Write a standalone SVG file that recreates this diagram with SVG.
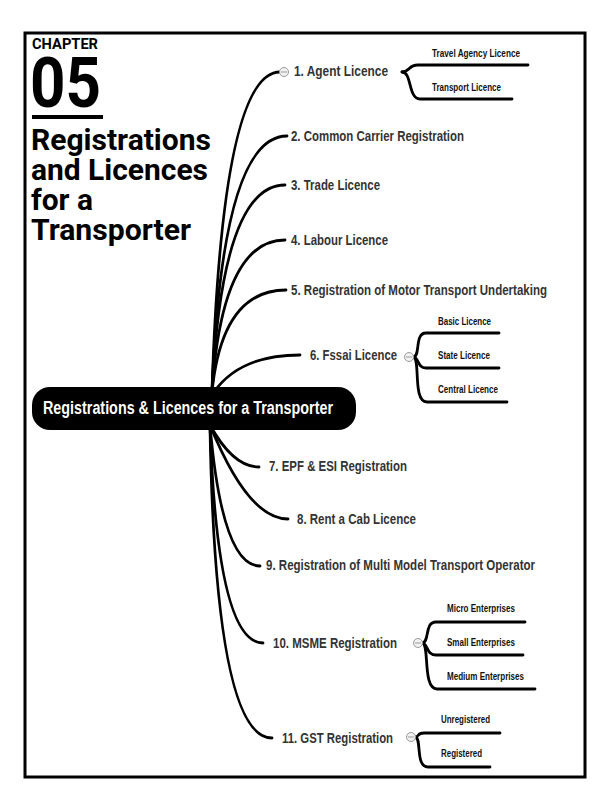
<svg xmlns="http://www.w3.org/2000/svg" width="615" height="797" viewBox="0 0 615 797">
<style>
.title{font-family:Roboto,"Liberation Sans",sans-serif;font-weight:bold;fill:#000}
.br{font-family:"Liberation Sans",Arial,sans-serif;font-weight:bold;font-size:15px;fill:#333}
.sub{font-family:"Liberation Sans",Arial,sans-serif;font-weight:bold;font-size:10px;fill:#111}
.edge{fill:none;stroke:#000;stroke-width:2.8;stroke-linecap:round}
.tog{fill:#f2f2f2;stroke:#999;stroke-width:1}
.togm{stroke:#999;stroke-width:1}
</style>
<rect x="0" y="0" width="615" height="797" fill="#fff"/>
<rect x="25" y="33" width="560" height="744" fill="none" stroke="#000" stroke-width="3"/>
<g id="title">
<text class="title" x="32" y="49" font-size="14" textLength="66" lengthAdjust="spacingAndGlyphs">CHAPTER</text>
<text class="title" x="30" y="107" font-size="70" textLength="71" lengthAdjust="spacingAndGlyphs">05</text>
<rect x="32" y="115" width="71" height="4" fill="#000"/>
<text class="title" x="31" y="150" font-size="29" textLength="180" lengthAdjust="spacingAndGlyphs">Registrations</text>
<text class="title" x="31" y="180" font-size="29" textLength="177" lengthAdjust="spacingAndGlyphs">and Licences</text>
<text class="title" x="31" y="210" font-size="29" textLength="62" lengthAdjust="spacingAndGlyphs">for a</text>
<text class="title" x="31" y="240" font-size="29" textLength="160" lengthAdjust="spacingAndGlyphs">Transporter</text>
</g>
<g id="connectors">
<path class="edge" d="M212,392 Q222,72 280,72"/>
<path class="edge" d="M212,392 Q222,136 287,136"/>
<path class="edge" d="M212,392 Q222,185 285,185"/>
<path class="edge" d="M212,392 Q222,240 285,240"/>
<path class="edge" d="M212,392 Q222,290 286,290"/>
<path class="edge" d="M214,392 Q240,355 300,355"/>
<path class="edge" d="M210,425 Q233,467 259,467"/>
<path class="edge" d="M210,425 Q248,519 288,519"/>
<path class="edge" d="M210,425 Q222,566 260,566"/>
<path class="edge" d="M210,425 Q217,643 263,643"/>
<path class="edge" d="M210,425 Q215,738 272,738"/>
<path class="edge" d="M402,72 C410,72 408,65 418,65 L528,65"/>
<path class="edge" d="M402,72 C412,72 408,99 420,99 L512,99"/>
<path class="edge" d="M413,357 C421,357 414,333 426,333 L499,333"/>
<path class="edge" d="M413,357 C419,357 417,368 426,368 L499,368"/>
<path class="edge" d="M413,357 C421,357 412,402 427,402 L507,402"/>
<path class="edge" d="M422,643 C430,643 424,622 436,622 L525,622"/>
<path class="edge" d="M422,643 C428,643 426,655 436,655 L523,655"/>
<path class="edge" d="M422,643 C430,643 422,689 437,689 L535,689"/>
<path class="edge" d="M415,737 C420,737 416,733 424,733 L500,733"/>
<path class="edge" d="M415,737 C422,737 415,767 428,767 L490,767"/>
</g>
<g id="root">
<rect x="32" y="387" width="324" height="43" rx="18" fill="#000"/>
<text x="43" y="414" font-family="'Liberation Sans',Arial,sans-serif" font-weight="bold" font-size="18" fill="#fff" textLength="290" lengthAdjust="spacingAndGlyphs">Registrations &amp; Licences for a Transporter</text>
</g>
<g id="n1">
<circle class="tog" cx="284" cy="72" r="4.5"/><line class="togm" x1="281" y1="72" x2="287" y2="72"/>
<text class="br" x="294" y="76" textLength="94" lengthAdjust="spacingAndGlyphs">1. Agent Licence</text>
</g>
<g id="n1a"><text class="sub" x="432" y="57" textLength="88" lengthAdjust="spacingAndGlyphs">Travel Agency Licence</text></g>
<g id="n1b"><text class="sub" x="432" y="91" textLength="69" lengthAdjust="spacingAndGlyphs">Transport Licence</text></g>
<g id="n2"><text class="br" x="291" y="141" textLength="173" lengthAdjust="spacingAndGlyphs">2. Common Carrier Registration</text></g>
<g id="n3"><text class="br" x="291" y="190" textLength="89" lengthAdjust="spacingAndGlyphs">3. Trade Licence</text></g>
<g id="n4"><text class="br" x="291" y="245" textLength="97" lengthAdjust="spacingAndGlyphs">4. Labour Licence</text></g>
<g id="n5"><text class="br" x="291" y="295" textLength="256" lengthAdjust="spacingAndGlyphs">5. Registration of Motor Transport Undertaking</text></g>
<g id="n6">
<text class="br" x="310" y="360" textLength="87" lengthAdjust="spacingAndGlyphs">6. Fssai Licence</text>
<circle class="tog" cx="409" cy="357" r="4.5"/><line class="togm" x1="406" y1="357" x2="412" y2="357"/>
</g>
<g id="n6a"><text class="sub" x="438" y="325" textLength="53" lengthAdjust="spacingAndGlyphs">Basic Licence</text></g>
<g id="n6b"><text class="sub" x="438" y="359" textLength="52" lengthAdjust="spacingAndGlyphs">State Licence</text></g>
<g id="n6c"><text class="sub" x="438" y="393" textLength="60" lengthAdjust="spacingAndGlyphs">Central Licence</text></g>
<g id="n7"><text class="br" x="269" y="471" textLength="138" lengthAdjust="spacingAndGlyphs">7. EPF &amp; ESI Registration</text></g>
<g id="n8"><text class="br" x="297" y="524" textLength="119" lengthAdjust="spacingAndGlyphs">8. Rent a Cab Licence</text></g>
<g id="n9"><text class="br" x="266" y="570" textLength="269" lengthAdjust="spacingAndGlyphs">9. Registration of Multi Model Transport Operator</text></g>
<g id="n10">
<text class="br" x="273" y="648" textLength="124" lengthAdjust="spacingAndGlyphs">10. MSME Registration</text>
<circle class="tog" cx="418" cy="643" r="4.5"/><line class="togm" x1="415" y1="643" x2="421" y2="643"/>
</g>
<g id="n10a"><text class="sub" x="447" y="612" textLength="68" lengthAdjust="spacingAndGlyphs">Micro Enterprises</text></g>
<g id="n10b"><text class="sub" x="447" y="646" textLength="68" lengthAdjust="spacingAndGlyphs">Small Enterprises</text></g>
<g id="n10c"><text class="sub" x="447" y="680" textLength="77" lengthAdjust="spacingAndGlyphs">Medium Enterprises</text></g>
<g id="n11">
<text class="br" x="282" y="743" textLength="111" lengthAdjust="spacingAndGlyphs">11. GST Registration</text>
<circle class="tog" cx="411" cy="737" r="4.5"/><line class="togm" x1="408" y1="737" x2="414" y2="737"/>
</g>
<g id="n11a"><text class="sub" x="441" y="723" textLength="49" lengthAdjust="spacingAndGlyphs">Unregistered</text></g>
<g id="n11b"><text class="sub" x="441" y="757" textLength="41" lengthAdjust="spacingAndGlyphs">Registered</text></g>
</svg>
